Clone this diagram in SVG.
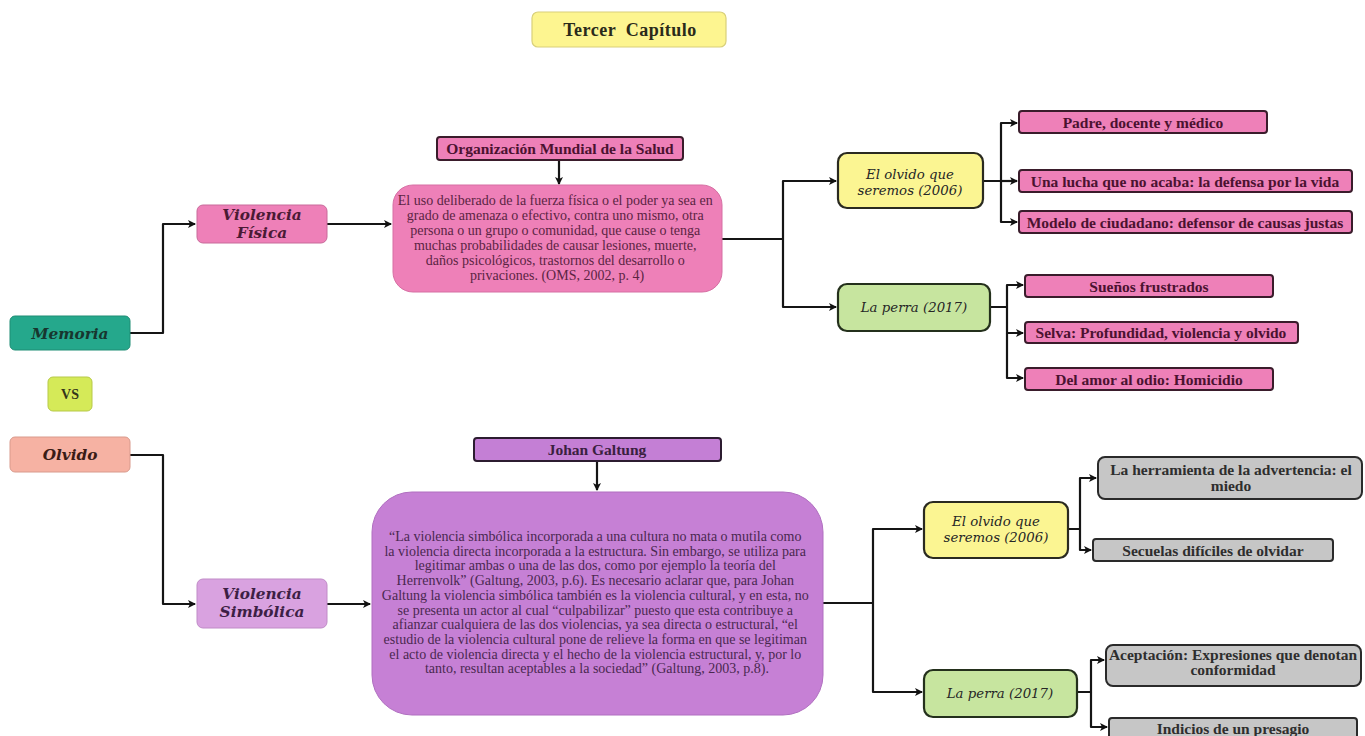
<svg xmlns="http://www.w3.org/2000/svg" width="1365" height="736" viewBox="0 0 1365 736">
  <defs>
    <marker id="arrow" markerUnits="userSpaceOnUse" markerWidth="10" markerHeight="10" refX="8" refY="5" orient="auto">
      <path d="M1,1 L9,5 L1,9 L3,5 Z" fill="#111"/>
    </marker>
    <style>
      .conn { fill: none; stroke: #151515; stroke-width: 2.2; stroke-linejoin: round; }
      .t { font-family: "Liberation Serif", "DejaVu Serif", serif; text-anchor: middle; }
      .b { font-weight: bold; }
      .pink { fill: #ee80b8; stroke: #3a1c2b; stroke-width: 2; }
      .pink-t { fill: #4b1230; font-weight: bold; font-size: 15.5px; }
      .gray { fill: #c6c6c6; stroke: #2a2a2a; stroke-width: 2; }
      .gray-t { fill: #2e2e2e; font-weight: bold; font-size: 15.5px; }
      .yel { fill: #fbf592; stroke: #2a2a20; stroke-width: 2.2; }
      .grn { fill: #c7e59f; stroke: #24301c; stroke-width: 2.2; }
      .book-t { font-family: "DejaVu Serif", serif; fill: #262626; font-style: italic; font-size: 13.3px; }
      .quote-t { font-size: 14px; }
      .head-t { font-family: "DejaVu Serif", serif; font-weight: bold; font-style: italic; font-size: 15.3px; }
    </style>
  </defs>

  <rect width="1365" height="736" fill="#ffffff"/>

  <!-- connectors -->
  <g id="connectors">
    <path class="conn" d="M130,333 H163 V224 H195" marker-end="url(#arrow)"/>
    <path class="conn" d="M130,455 H163 V604 H195" marker-end="url(#arrow)"/>
    <path class="conn" d="M327,224 H391" marker-end="url(#arrow)"/>
    <path class="conn" d="M559,160 V184" marker-end="url(#arrow)"/>
    <path class="conn" d="M722,239 H783 V181 H836" marker-end="url(#arrow)"/>
    <path class="conn" d="M783,239 V307 H836" marker-end="url(#arrow)"/>
    <path class="conn" d="M983,181 H1001 V123 H1017" marker-end="url(#arrow)"/>
    <path class="conn" d="M1001,181 H1017" marker-end="url(#arrow)"/>
    <path class="conn" d="M1001,181 V222 H1017" marker-end="url(#arrow)"/>
    <path class="conn" d="M990,307 H1007 V285 H1023" marker-end="url(#arrow)"/>
    <path class="conn" d="M1007,307 V333 H1023" marker-end="url(#arrow)"/>
    <path class="conn" d="M1007,333 V378 H1023" marker-end="url(#arrow)"/>

    <path class="conn" d="M327,604 H370" marker-end="url(#arrow)"/>
    <path class="conn" d="M597,461 V490" marker-end="url(#arrow)"/>
    <path class="conn" d="M823,603 H873 V529 H922" marker-end="url(#arrow)"/>
    <path class="conn" d="M873,603 V692 H922" marker-end="url(#arrow)"/>
    <path class="conn" d="M1068,529 H1080 V478 H1096" marker-end="url(#arrow)"/>
    <path class="conn" d="M1080,529 V550 H1091" marker-end="url(#arrow)"/>
    <path class="conn" d="M1077,692 H1091 V660 H1104" marker-end="url(#arrow)"/>
    <path class="conn" d="M1091,692 V727 H1107" marker-end="url(#arrow)"/>
  </g>

  <!-- chapter title -->
  <g id="title">
    <rect x="532" y="12" width="194" height="35" rx="6" fill="#fdf590" stroke="#d9d07a" stroke-width="1.2"/>
    <text class="t b" x="630" y="36" font-size="18" letter-spacing="0.5" fill="#2a2a1a" xml:space="preserve">Tercer  Capítulo</text>
  </g>

  <!-- left column -->
  <g id="memoria">
    <rect x="10" y="316" width="120" height="34" rx="5" fill="#25a88c" stroke="#1f8d75" stroke-width="1"/>
    <text class="t head-t" x="70" y="339" fill="#17362f">Memoria</text>
  </g>
  <g id="vs">
    <rect x="48" y="377" width="44" height="34" rx="5" fill="#d5ea58" stroke="#b7c948" stroke-width="1"/>
    <text class="t b" x="70" y="399" font-size="14" fill="#33361a">VS</text>
  </g>
  <g id="olvido">
    <rect x="10" y="437" width="120" height="35" rx="5" fill="#f6b2a3" stroke="#d99a8c" stroke-width="1"/>
    <text class="t head-t" x="70" y="460" fill="#3a1c16">Olvido</text>
  </g>

  <!-- upper branch: physical violence -->
  <g id="violencia-fisica">
    <rect x="197" y="205" width="130" height="38" rx="6" fill="#ee80b8" stroke="#c86a9a" stroke-width="1"/>
    <text class="t head-t" x="262" y="220" fill="#4a1a35">Violencia</text>
    <text class="t head-t" x="262" y="238" fill="#4a1a35">Física</text>
  </g>
  <g id="oms-label">
    <rect x="437" y="137" width="246" height="23" rx="3" class="pink"/>
    <text class="t pink-t" x="560" y="154">Organización Mundial de la Salud</text>
  </g>
  <g id="oms-def">
    <rect x="393" y="185" width="329" height="107" rx="20" fill="#ee80b8" stroke="#d66fa3" stroke-width="1"/>
    <text class="t quote-t" fill="#5b2443">
      <tspan x="557" y="205">El uso deliberado de la fuerza física o el poder ya sea en</tspan>
      <tspan x="557" y="220">grado de amenaza o efectivo, contra uno mismo, otra</tspan>
      <tspan x="557" y="235">persona o un grupo o comunidad, que cause o tenga</tspan>
      <tspan x="557" y="250">muchas probabilidades de causar lesiones, muerte,</tspan>
      <tspan x="557" y="265">daños psicológicos, trastornos del desarrollo o</tspan>
      <tspan x="557" y="280">privaciones. (OMS, 2002, p. 4)</tspan>
    </text>
  </g>
  <g id="olvido-2006-a">
    <rect x="838" y="153" width="145" height="55" rx="9" class="yel"/>
    <text class="t book-t" x="910" y="178.5">El olvido que</text>
    <text class="t book-t" x="910" y="194.5">seremos (2006)</text>
  </g>
  <g id="perra-2017-a">
    <rect x="838" y="284" width="152" height="47" rx="9" class="grn"/>
    <text class="t book-t" x="914" y="312">La perra (2017)</text>
  </g>
  <g id="padre">
    <rect x="1019" y="111" width="248" height="22" rx="3" class="pink"/>
    <text class="t pink-t" x="1143" y="127.5">Padre, docente y médico</text>
  </g>
  <g id="lucha">
    <rect x="1019" y="170" width="333" height="22" rx="3" class="pink"/>
    <text class="t pink-t" x="1185" y="186.5">Una lucha que no acaba: la defensa por la vida</text>
  </g>
  <g id="modelo">
    <rect x="1019" y="211" width="333" height="22" rx="3" class="pink"/>
    <text class="t pink-t" x="1185" y="227.5">Modelo de ciudadano: defensor de causas justas</text>
  </g>
  <g id="suenos">
    <rect x="1025" y="275" width="248" height="22" rx="3" class="pink"/>
    <text class="t pink-t" x="1149" y="291.5">Sueños frustrados</text>
  </g>
  <g id="selva">
    <rect x="1025" y="322" width="273" height="21" rx="3" class="pink"/>
    <text class="t pink-t" x="1161" y="338">Selva: Profundidad, violencia y olvido</text>
  </g>
  <g id="amor-odio">
    <rect x="1025" y="368" width="248" height="22" rx="3" class="pink"/>
    <text class="t pink-t" x="1149" y="384.5">Del amor al odio: Homicidio</text>
  </g>

  <!-- lower branch: symbolic violence -->
  <g id="violencia-simbolica">
    <rect x="197" y="579" width="130" height="49" rx="6" fill="#d9a2e0" stroke="#c08bc7" stroke-width="1"/>
    <text class="t head-t" x="262" y="599" fill="#3d1f45">Violencia</text>
    <text class="t head-t" x="262" y="617" fill="#3d1f45">Simbólica</text>
  </g>
  <g id="galtung-label">
    <rect x="474" y="438" width="247" height="23" rx="3" fill="#c47fd5" stroke="#2c1c30" stroke-width="2"/>
    <text class="t b" x="597" y="454.5" font-size="15.5" fill="#3a2040">Johan Galtung</text>
  </g>
  <g id="galtung-def">
    <rect x="372" y="492" width="451" height="223" rx="40" fill="#c680d5" stroke="#b06fc0" stroke-width="1"/>
    <text class="t quote-t" fill="#4a2850">
      <tspan x="597" y="541">“La violencia simbólica incorporada a una cultura no mata o mutila como</tspan>
      <tspan x="597" y="555.7">la violencia directa incorporada a la estructura. Sin embargo, se utiliza para</tspan>
      <tspan x="597" y="570.4">legitimar ambas o una de las dos, como por ejemplo la teoría del</tspan>
      <tspan x="597" y="585.1">Herrenvolk” (Galtung, 2003, p.6). Es necesario aclarar que, para Johan</tspan>
      <tspan x="597" y="599.8">Galtung la violencia simbólica también es la violencia cultural, y en esta, no</tspan>
      <tspan x="597" y="614.5">se presenta un actor al cual “culpabilizar” puesto que esta contribuye a</tspan>
      <tspan x="597" y="629.2">afianzar cualquiera de las dos violencias, ya sea directa o estructural, “el</tspan>
      <tspan x="597" y="643.9">estudio de la violencia cultural pone de relieve la forma en que se legitiman</tspan>
      <tspan x="597" y="658.6">el acto de violencia directa y el hecho de la violencia estructural, y, por lo</tspan>
      <tspan x="597" y="673.3">tanto, resultan aceptables a la sociedad” (Galtung, 2003, p.8).</tspan>
    </text>
  </g>
  <g id="olvido-2006-b">
    <rect x="924" y="502" width="144" height="56" rx="9" class="yel"/>
    <text class="t book-t" x="996" y="526">El olvido que</text>
    <text class="t book-t" x="996" y="542">seremos (2006)</text>
  </g>
  <g id="perra-2017-b">
    <rect x="924" y="670" width="153" height="47" rx="9" class="grn"/>
    <text class="t book-t" x="1000" y="698">La perra (2017)</text>
  </g>
  <g id="herramienta">
    <rect x="1098" y="457" width="264" height="42" rx="7" class="gray"/>
    <text class="t gray-t" x="1231" y="475">La herramienta de la advertencia: el</text>
    <text class="t gray-t" x="1231" y="491">miedo</text>
  </g>
  <g id="secuelas">
    <rect x="1093" y="539" width="240" height="22" rx="3" class="gray"/>
    <text class="t gray-t" x="1213" y="555.5">Secuelas difíciles de olvidar</text>
  </g>
  <g id="aceptacion">
    <rect x="1106" y="645" width="255" height="41" rx="7" class="gray"/>
    <text class="t gray-t" x="1233" y="660">Aceptación: Expresiones que denotan</text>
    <text class="t gray-t" x="1233" y="675">conformidad</text>
  </g>
  <g id="indicios">
    <rect x="1109" y="718" width="248" height="30" rx="3" class="gray"/>
    <text class="t gray-t" x="1233" y="733.5">Indicios de un presagio</text>
  </g>
</svg>
